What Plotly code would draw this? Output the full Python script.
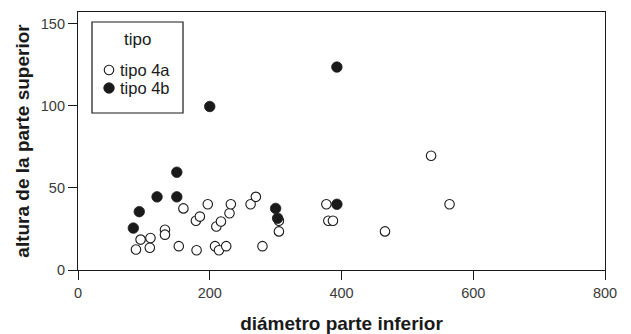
import plotly.graph_objects as go

# diámetro parte inferior / altura de la parte superior, por tipo
x_4a = [88, 95, 109, 110, 132, 132, 153, 160, 180, 179, 185, 197, 208, 214,
        225, 210, 217, 230, 232, 262, 270, 280, 305, 305, 377, 380, 387, 466,
        536, 564]
y_4a = [12.5, 18.5, 13.5, 19.5, 24.5, 21.5, 14.5, 37.5, 12, 30, 32.5, 40,
        14.5, 12, 14.5, 26.5, 29.5, 34.5, 40, 40, 44.5, 14.5, 30, 23.5, 40,
        30, 30, 23.5, 69.5, 40]

x_4b = [84, 93, 120, 150, 150, 200, 300, 303, 393, 393]
y_4b = [25.5, 35.5, 44.5, 44.5, 59.5, 99.5, 37.5, 31.5, 123.5, 40]

x_ticks = [0, 200, 400, 600, 800]
y_ticks = [0, 50, 100, 150]

legend_title = "tipo"
series_names = ["tipo 4a", "tipo 4b"]

FONT = "Liberation Sans, Arial, sans-serif"
INK = "#1a1a1a"

WIDTH, HEIGHT = 631, 334
MARGIN = dict(l=78, r=26, t=12, b=64)
PLOT_W = WIDTH - MARGIN["l"] - MARGIN["r"]
PLOT_H = HEIGHT - MARGIN["t"] - MARGIN["b"]


def px_to_paper(px, py):
    """Pixel offsets from the plot area's top-left corner -> paper coords."""
    return px / PLOT_W, 1 - py / PLOT_H


open_marker = dict(symbol="circle", size=9.5, color="white",
                   line=dict(color=INK, width=1.1))
filled_marker = dict(symbol="circle", size=10.5, color=INK,
                     line=dict(color=INK, width=0.8))

fig = go.Figure()
fig.add_trace(go.Scatter(x=x_4a, y=y_4a, mode="markers",
                         name=series_names[0], marker=open_marker))
fig.add_trace(go.Scatter(x=x_4b, y=y_4b, mode="markers",
                         name=series_names[1], marker=filled_marker))

axis_common = dict(
    showgrid=False, zeroline=False, showline=True, mirror=True,
    linecolor=INK, linewidth=1.2, automargin=False,
    ticks="outside", ticklen=9, tickwidth=1.2, tickcolor=INK,
    tickfont=dict(family=FONT, size=14.5, color="#3a3a3a"),
)

# boxed legend in the upper-left corner of the plot area
shapes, annotations = [], []
bx0, by0 = px_to_paper(14, 10)
bx1, by1 = px_to_paper(105, 101)
shapes.append(dict(type="rect", xref="paper", yref="paper",
                   x0=bx0, y0=by1, x1=bx1, y1=by0,
                   line=dict(color=INK, width=1.2), fillcolor="white",
                   layer="above"))
tx, ty = px_to_paper(59, 28)
annotations.append(dict(xref="paper", yref="paper", x=tx, y=ty,
                        text=legend_title, showarrow=False,
                        xanchor="center", yanchor="middle",
                        font=dict(family=FONT, size=17, color=INK)))
for i, (name, mk) in enumerate(zip(series_names, [open_marker, filled_marker])):
    row = 58 + 18 * i
    mx, my = px_to_paper(31, row)
    r = mk["size"] / 2
    shapes.append(dict(type="circle", xref="paper", yref="paper",
                       xsizemode="pixel", ysizemode="pixel",
                       xanchor=mx, yanchor=my,
                       x0=-r, x1=r, y0=-r, y1=r,
                       fillcolor=mk["color"],
                       line=dict(color=INK, width=mk["line"]["width"]),
                       layer="above"))
    lx, ly = px_to_paper(40, row)
    annotations.append(dict(xref="paper", yref="paper", x=lx, y=ly,
                            text=name, showarrow=False,
                            xanchor="left", yanchor="middle",
                            font=dict(family=FONT, size=16.5, color=INK)))

fig.update_layout(
    width=WIDTH, height=HEIGHT,
    margin=MARGIN,
    paper_bgcolor="white", plot_bgcolor="white",
    font=dict(family=FONT, color=INK),
    xaxis=dict(range=[0, 800], tickvals=x_ticks,
               title=dict(text="<b>diámetro parte inferior</b>",
                          font=dict(family=FONT, size=19, color=INK),
                          standoff=18),
               **axis_common),
    yaxis=dict(range=[0, 157], tickvals=y_ticks,
               title=dict(text="<b>altura de la parte superior</b>",
                          font=dict(family=FONT, size=19, color=INK),
                          standoff=6),
               **axis_common),
    shapes=shapes,
    annotations=annotations,
    showlegend=False,
)

fig.write_html("out.html")
